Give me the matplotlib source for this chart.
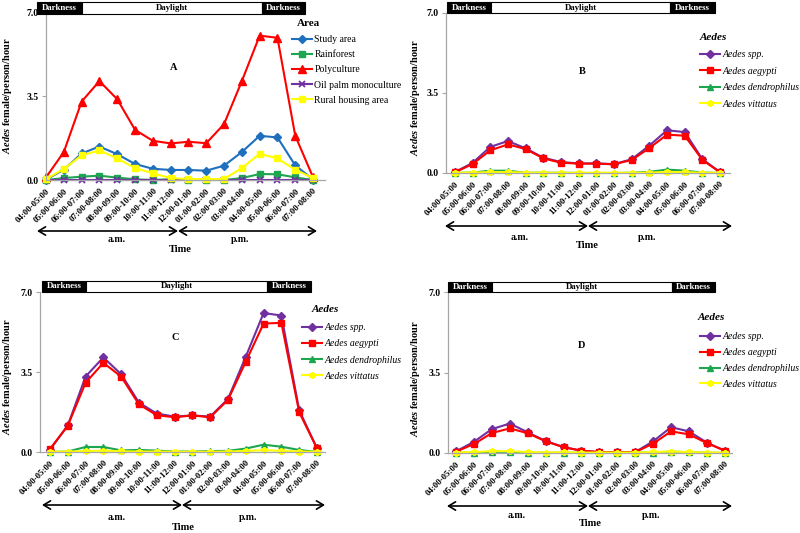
import matplotlib
matplotlib.use("Agg")
import matplotlib.pyplot as plt
from matplotlib.patches import Rectangle, FancyArrowPatch

plt.rcParams['font.family'] = ['Liberation Serif', 'DejaVu Serif']
plt.rcParams['mathtext.fontset'] = 'custom'
plt.rcParams['mathtext.it'] = 'Liberation Serif:bold:italic'
plt.rcParams['mathtext.rm'] = 'Liberation Serif:bold'

# ---------------- data ----------------
time_labels = ["04:00-05:00", "05:00-06:00", "06:00-07:00", "07:00-08:00",
               "08:00-09:00", "09:00-10:00", "10:00-11:00", "11:00-12:00",
               "12:00-01:00", "01:00-02:00", "02:00-03:00", "03:00-04:00",
               "04:00-05:00", "05:00-06:00", "06:00-07:00", "07:00-08:00"]

# Panel A (by area)
area_names = ["Study area", "Rainforest", "Polyculture", "Oil palm monoculture", "Rural housing area"]
study_area = [0.02, 0.43, 1.11, 1.40, 1.08, 0.67, 0.47, 0.42, 0.42, 0.39, 0.60, 1.17, 1.85, 1.78, 0.61, 0.02]
rainforest = [0.00, 0.08, 0.14, 0.18, 0.10, 0.03, 0.00, 0.03, 0.01, 0.01, 0.00, 0.08, 0.25, 0.24, 0.11, 0.00]
polyculture = [0.11, 1.17, 3.28, 4.14, 3.38, 2.10, 1.64, 1.53, 1.60, 1.54, 2.34, 4.14, 6.04, 5.95, 1.85, 0.11]
oil_palm = [0.00, 0.00, 0.00, 0.00, 0.00, 0.00, 0.00, 0.00, 0.00, 0.00, 0.00, 0.00, 0.00, 0.00, 0.00, 0.00]
rural_housing = [0.04, 0.46, 1.03, 1.24, 0.90, 0.50, 0.28, 0.08, 0.04, 0.04, 0.04, 0.50, 1.10, 0.90, 0.43, 0.08]

species_names = ["Aedes spp.", "Aedes aegypti", "Aedes dendrophilus", "Aedes vittatus"]
# Panel B (study area)
b_spp = [0.04, 0.44, 1.14, 1.40, 1.08, 0.67, 0.48, 0.42, 0.42, 0.39, 0.60, 1.20, 1.87, 1.79, 0.60, 0.04]
b_aegypti = [0.03, 0.39, 0.99, 1.25, 1.05, 0.64, 0.45, 0.41, 0.41, 0.38, 0.57, 1.09, 1.68, 1.63, 0.57, 0.03]
b_dendro = [0.00, 0.02, 0.10, 0.10, 0.01, 0.01, 0.01, 0.00, 0.00, 0.00, 0.01, 0.05, 0.15, 0.10, 0.02, 0.00]
b_vittatus = [0.01, 0.02, 0.04, 0.04, 0.02, 0.01, 0.01, 0.01, 0.01, 0.01, 0.01, 0.02, 0.04, 0.04, 0.01, 0.01]
# Panel C (polyculture)
c_spp = [0.10, 1.16, 3.30, 4.14, 3.40, 2.16, 1.68, 1.55, 1.60, 1.55, 2.32, 4.17, 6.08, 5.97, 1.83, 0.16]
c_aegypti = [0.13, 1.15, 3.03, 3.90, 3.30, 2.08, 1.61, 1.52, 1.60, 1.52, 2.28, 3.95, 5.62, 5.65, 1.74, 0.16]
c_dendro = [0.00, 0.02, 0.22, 0.22, 0.07, 0.09, 0.06, 0.02, 0.02, 0.04, 0.05, 0.15, 0.32, 0.23, 0.09, 0.00]
c_vittatus = [0.01, 0.02, 0.04, 0.06, 0.03, 0.02, 0.02, 0.01, 0.01, 0.01, 0.02, 0.05, 0.08, 0.05, 0.02, 0.01]
# Panel D (rural housing area)
d_spp = [0.07, 0.49, 1.04, 1.28, 0.90, 0.52, 0.26, 0.10, 0.04, 0.04, 0.04, 0.51, 1.12, 0.94, 0.45, 0.10]
d_aegypti = [0.06, 0.39, 0.87, 1.07, 0.86, 0.51, 0.25, 0.10, 0.04, 0.04, 0.04, 0.41, 0.94, 0.81, 0.43, 0.10]
d_dendro = [0.00, 0.02, 0.05, 0.05, 0.01, 0.01, 0.01, 0.00, 0.00, 0.00, 0.01, 0.02, 0.06, 0.03, 0.01, 0.00]
d_vittatus = [0.02, 0.04, 0.08, 0.08, 0.04, 0.02, 0.03, 0.02, 0.02, 0.02, 0.02, 0.04, 0.06, 0.04, 0.02, 0.02]

# ---------------- styles ----------------
area_styles = [dict(color='#1F6FBF', marker='D', ms=4),
               dict(color='#1DA650', marker='s', ms=5),
               dict(color='#FF0000', marker='^', ms=5.5),
               dict(color='#7030A0', marker='x', ms=4.5, mew=1.3),
               dict(color='#FFFF00', marker='s', ms=4.5)]
species_styles = [dict(color='#7030A0', marker='D', ms=4),
                  dict(color='#FF0000', marker='s', ms=5),
                  dict(color='#1DA650', marker='^', ms=4.5),
                  dict(color='#FFFF00', marker=(6, 2, 0), ms=5, mew=1.3)]

W, H = 800, 533
fig = plt.figure(figsize=(8, 5.33), dpi=100)


def fx(x):
    return x / W


def fy(y):
    return 1 - y / H


panels = [
    dict(letter='A', ax=(46, 325, 12.7, 180), xlim=(0, 15.67),
         bar=(37, 82, 262, 305, 2, 13.5), arrow=(231, 37, 178, 317),
         am=(117, 240), pm=(240, 240), time=(180, 249), ylab=(8, 96), let=(174, 67),
         leg=(292, 70), title_xy=(297, 23), legtitle='Area',
         series=[study_area, rainforest, polyculture, oil_palm, rural_housing],
         names=area_names, styles=area_styles, spacing=0.63),
    dict(letter='B', ax=(446, 730, 13, 173), xlim=(-0.5, 15.56),
         bar=(447, 491, 670, 715, 2.5, 13.3), arrow=(226, 445, 588, 732),
         am=(520, 237), pm=(647, 237), time=(587, 246), ylab=(415, 98), let=(582, 72),
         leg=(700, 79.5), title_xy=(700, 38), legtitle='Aedes',
         series=[b_spp, b_aegypti, b_dendro, b_vittatus],
         names=species_names, styles=species_styles, spacing=0.76),
    dict(letter='C', ax=(40, 325, 292, 452), xlim=(-0.56, 15.45),
         bar=(42, 86, 267, 311, 281, 292), arrow=(505, 42, 182, 325),
         am=(117, 517), pm=(248, 517), time=(183, 527), ylab=(8, 377), let=(175, 337),
         leg=(302, 352), title_xy=(312, 309), legtitle='Aedes',
         series=[c_spp, c_aegypti, c_dendro, c_vittatus],
         names=species_names, styles=species_styles, spacing=0.73),
    dict(letter='D', ax=(448, 732, 292, 453), xlim=(-0.45, 15.4),
         bar=(448, 492, 672, 715, 282, 292), arrow=(506, 447, 588, 732),
         am=(517, 515), pm=(651, 515), time=(590, 524), ylab=(415, 379), let=(582, 346),
         leg=(700, 360.5), title_xy=(698, 318), legtitle='Aedes',
         series=[d_spp, d_aegypti, d_dendro, d_vittatus],
         names=species_names, styles=species_styles, spacing=0.70),
]

for p in panels:
    l, r, t, b = p['ax']
    ax = fig.add_axes([fx(l), fy(b), (r - l) / W, (b - t) / H])
    xs = list(range(len(time_labels)))
    handles = []
    for vals, name, st in zip(p['series'], p['names'], p['styles']):
        h, = ax.plot(xs, vals, color=st['color'], lw=1.5, marker=st['marker'],
                     ms=st['ms'], mew=st.get('mew', 1.0), mec=st['color'],
                     mfc=st['color'], label=name, clip_on=False)
        handles.append(h)
    ax.set_xlim(*p['xlim'])
    ax.set_ylim(0, 7.0)
    ax.set_yticks([0, 3.5, 7.0])
    ax.set_yticklabels(['0.0', '3.5', '7.0'], fontweight='bold', fontsize=7)
    ax.set_xticks(xs)
    ax.set_xticklabels(time_labels, rotation=45, ha='right', rotation_mode='anchor',
                       fontweight='bold', fontsize=6.3)
    for s in ['top', 'right']:
        ax.spines[s].set_visible(False)
    for s in ['left', 'bottom']:
        ax.spines[s].set_color('#A6A6A6')
        ax.spines[s].set_linewidth(0.9)
    ax.tick_params(axis='y', length=3, color='#A6A6A6', pad=2)
    ax.tick_params(axis='x', length=0, pad=5)
    ax.patch.set_alpha(0)

    # Darkness / Daylight bar
    x0, x1, x2, x3, y0, y1 = p['bar']
    for (a, c, fc, tc, txt) in [(x0, x1, 'black', 'white', 'Darkness'),
                                (x1, x2, 'white', 'black', 'Daylight'),
                                (x2, x3, 'black', 'white', 'Darkness')]:
        fig.patches.append(Rectangle((fx(a), fy(y1)), (c - a) / W, (y1 - y0) / H,
                                     transform=fig.transFigure, facecolor=fc,
                                     edgecolor='black', lw=0.8))
        fig.text(fx((a + c) / 2), fy((y0 + y1) / 2), txt, color=tc, fontsize=6.3,
                 fontweight='bold', ha='center', va='center')

    # a.m. / p.m. arrows
    ya, xa0, xa1, xa2 = p['arrow']
    for (s, e) in [(xa0, xa1), (xa1, xa2)]:
        fig.add_artist(FancyArrowPatch(
            (fx(s), fy(ya)), (fx(e), fy(ya)), transform=fig.transFigure,
            arrowstyle='<->,head_length=5,head_width=3', color='black', lw=1.2,
            shrinkA=0, shrinkB=0))
    fig.text(fx(p['am'][0]), fy(p['am'][1]), 'a.m.', fontsize=7, fontweight='bold',
             ha='center', va='center')
    fig.text(fx(p['pm'][0]), fy(p['pm'][1]), 'p.m.', fontsize=7, fontweight='bold',
             ha='center', va='center')
    fig.text(fx(p['time'][0]), fy(p['time'][1]), 'Time', fontsize=7.5, fontweight='bold',
             ha='center', va='center')
    fig.text(fx(p['ylab'][0]), fy(p['ylab'][1]), r'$\mathit{Aedes}$ female/person/hour',
             fontsize=7.5, fontweight='bold', rotation=90, ha='center', va='center')
    fig.text(fx(p['let'][0]), fy(p['let'][1]), p['letter'], fontsize=7.5,
             fontweight='bold', ha='center', va='center')

    italic = p['legtitle'] == 'Aedes'
    fig.text(fx(p['title_xy'][0]), fy(p['title_xy'][1]), p['legtitle'], fontsize=8,
             fontweight='bold', fontstyle='italic' if italic else 'normal',
             ha='left', va='center')
    fig.legend(handles=handles, loc='center left',
               bbox_to_anchor=(fx(p['leg'][0]), fy(p['leg'][1])),
               bbox_transform=fig.transFigure, frameon=False,
               prop=dict(family='Liberation Serif', size=7,
                         style='italic' if italic else 'normal'),
               handlelength=2.1, handletextpad=0.2, borderpad=0,
               borderaxespad=0, labelspacing=p['spacing'])

fig.savefig('out.png', dpi=100)
